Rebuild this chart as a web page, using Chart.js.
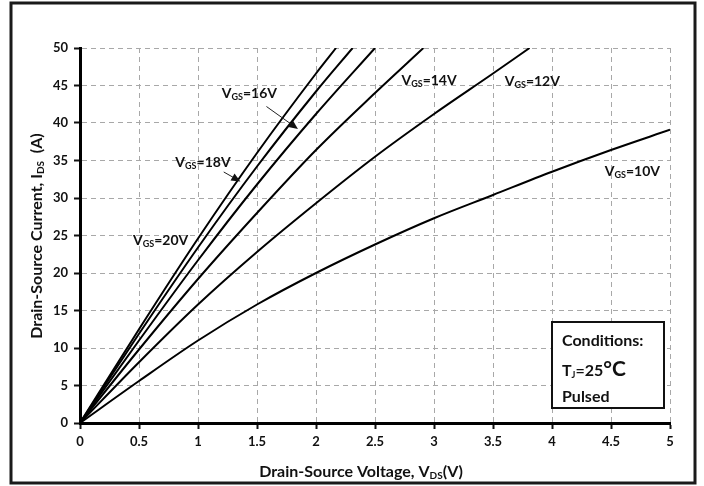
<!DOCTYPE html>
<html>
<head>
<meta charset="utf-8">
<script src="https://cdn.jsdelivr.net/npm/chart.js@4.4.1/dist/chart.umd.min.js"></script>
<style>
  html, body { margin:0; padding:0; background:#fff; }
  #wrap { width:704px; height:486px; }
</style>
</head>
<body>
<div id="wrap"><canvas id="ids-vds" width="704" height="486"></canvas></div>
<script>
// ── Output characteristics, Tj = 25°C, pulsed ────────────────────────────
const vgsNames = ['20V', '18V', '16V', '14V', '12V', '10V'];

const vds20 = [0, 0.5, 1, 1.5, 2, 2.17];
const ids20 = [0, 12.5, 24.6, 36.0, 46.6, 50];

const vds18 = [0, 0.5, 1, 1.5, 2, 2.31];
const ids18 = [0, 11.9, 23.4, 34.2, 44.2, 50];

const vds16 = [0, 0.5, 1, 1.5, 2, 2.5];
const ids16 = [0, 11.0, 21.7, 31.8, 41.2, 50];

const vds14 = [0, 0.5, 1, 1.5, 2, 2.5, 2.91];
const ids14 = [0, 9.8, 19.2, 28.0, 36.4, 44.0, 50];

const vds12 = [0, 0.5, 1, 1.5, 2, 2.5, 3, 3.5, 3.81];
const ids12 = [0, 8.1, 15.8, 22.8, 29.3, 35.5, 41.2, 46.6, 50];

const vds10 = [0, 0.5, 1, 1.5, 2, 2.5, 3, 3.5, 4, 4.5, 5];
const ids10 = [0, 5.6, 11.0, 15.8, 20.0, 23.8, 27.3, 30.4, 33.5, 36.4, 39.1];

const vdsRange = [0, 5], vdsStep = 0.5;
const idsRange = [0, 50], idsStep = 5;

const curves = [[vds20, ids20], [vds18, ids18], [vds16, ids16], [vds14, ids14], [vds12, ids12], [vds10, ids10]];

// curve tags, placed in data units (left edge / baseline), optional arrow [x1,y1,x2,y2]
const tags = [
  { name:'16V', x:1.201, y:43.33, arrow:[1.58, 42.2, 1.847, 39.2] },
  { name:'18V', x:0.808, y:34.08, arrow:[1.218, 33.47, 1.359, 32.21] },
  { name:'20V', x:0.449, y:23.77 },
  { name:'14V', x:2.724, y:45.1 },
  { name:'12V', x:3.599, y:44.97 },
  { name:'10V', x:4.447, y:32.88 }
];

const FONT = 'Lato, "DejaVu Sans", sans-serif';

// draws runs of text where some parts are subscripts; returns total width
function runs(ctx, parts, x, y, measureOnly) {
  let cx = x;
  parts.forEach(p => {
    ctx.font = `bold ${p.size}px ${FONT}`;
    if (!measureOnly) ctx.fillText(p.t, cx, y + (p.dy || 0));
    cx += ctx.measureText(p.t).width;
  });
  return cx - x;
}

const decor = {
  id:'decor',
  beforeDraw(chart) {
    const { ctx } = chart;
    ctx.save();
    ctx.fillStyle = '#fff';
    ctx.fillRect(0, 0, chart.width, chart.height);
    ctx.restore();
  },
  afterDraw(chart) {
    const { ctx } = chart;
    const xs = chart.scales.x, ys = chart.scales.y;
    ctx.save();
    ctx.fillStyle = '#111';
    ctx.textBaseline = 'alphabetic';

    // curve tags
    tags.forEach(t => {
      const px = xs.getPixelForValue(t.x), py = ys.getPixelForValue(t.y);
      runs(ctx, [
        { t:'V', size:14 }, { t:'GS', size:9, dy:2 }, { t:'=' + t.name, size:14 }
      ], px, py);
      if (t.arrow) {
        const [a, b, c, d] = t.arrow;
        const x1 = xs.getPixelForValue(a), y1 = ys.getPixelForValue(b);
        const x2 = xs.getPixelForValue(c), y2 = ys.getPixelForValue(d);
        const ang = Math.atan2(y2 - y1, x2 - x1);
        ctx.strokeStyle = '#222'; ctx.lineWidth = 1;
        ctx.beginPath(); ctx.moveTo(x1, y1); ctx.lineTo(x2 - 6 * Math.cos(ang), y2 - 6 * Math.sin(ang)); ctx.stroke();
        ctx.beginPath();
        ctx.moveTo(x2, y2);
        ctx.lineTo(x2 - 9 * Math.cos(ang) + 4 * Math.sin(ang), y2 - 9 * Math.sin(ang) - 4 * Math.cos(ang));
        ctx.lineTo(x2 - 9 * Math.cos(ang) - 4 * Math.sin(ang), y2 - 9 * Math.sin(ang) + 4 * Math.cos(ang));
        ctx.closePath(); ctx.fill();
      }
    });

    // x axis title
    const xt = [{ t:'Drain-Source Voltage, V', size:16 }, { t:'DS', size:10, dy:2 }, { t:'(V)', size:16 }];
    const xw = runs(ctx, xt, 0, 0, true);
    runs(ctx, xt, 361 - xw / 2, 477);

    // y axis title
    const yt = [{ t:'Drain-Source Current, I', size:16 }, { t:'DS', size:10, dy:2 }, { t:'  (A)', size:16 }];
    const yw = runs(ctx, yt, 0, 0, true);
    ctx.save();
    ctx.translate(42, 236);
    ctx.rotate(-Math.PI / 2);
    runs(ctx, yt, -yw / 2, 0);
    ctx.restore();

    // conditions box
    ctx.fillStyle = '#fff';
    ctx.fillRect(552, 322, 112, 86);
    ctx.strokeStyle = '#111'; ctx.lineWidth = 2;
    ctx.strokeRect(552, 322, 112, 86);
    ctx.fillStyle = '#111';
    runs(ctx, [{ t:'Conditions:', size:16 }], 562, 346);
    runs(ctx, [{ t:'T', size:16 }, { t:'J', size:9, dy:2 }, { t:'=25', size:16 }, { t:'°C', size:21 }], 562, 376);
    runs(ctx, [{ t:'Pulsed', size:16 }], 562, 402);

    // outer frame
    ctx.strokeStyle = '#1a1a1a'; ctx.lineWidth = 3;
    ctx.strokeRect(11, 3, 684, 480);
    ctx.restore();
  }
};

const tickFont = { family: FONT, size: 13, weight: 'bold' };
const gridOpts = { color:'#a8a8a8', lineWidth:1, tickColor:'#111', tickWidth:2, tickLength:6, tickBorderDash:[], borderDash:[5, 4] };
const borderOpts = { color:'#000', width:3, dash:[5, 4] };
const plainNum = v => String(+v.toFixed(1));

new Chart(document.getElementById('ids-vds'), {
  type:'scatter',
  data:{
    datasets: curves.map(([vx, iy], k) => ({
      label:'VGS=' + vgsNames[k],
      data: vx.map((v, i) => ({ x:v, y:iy[i] })),
      showLine:true, borderColor:'#000', borderWidth:2, pointRadius:0,
      cubicInterpolationMode:'monotone'
    }))
  },
  options:{
    responsive:false, animation:false,
    layout:{ padding:{ top:48, right:34, left:0, bottom:0 } },
    plugins:{ legend:{ display:false }, tooltip:{ enabled:false } },
    scales:{
      x:{
        type:'linear', min:vdsRange[0], max:vdsRange[1],
        ticks:{ stepSize:vdsStep, color:'#111', font:tickFont, padding:5, maxRotation:0, callback:plainNum },
        grid:gridOpts,
        border:borderOpts,
        afterFit: s => { s.height = 63; }
      },
      y:{
        type:'linear', min:idsRange[0], max:idsRange[1],
        ticks:{ stepSize:idsStep, color:'#111', font:tickFont, padding:6, callback:plainNum },
        grid:gridOpts,
        border:borderOpts,
        afterFit: s => { s.width = 80; }
      }
    }
  },
  plugins:[decor]
});
</script>
</body>
</html>
